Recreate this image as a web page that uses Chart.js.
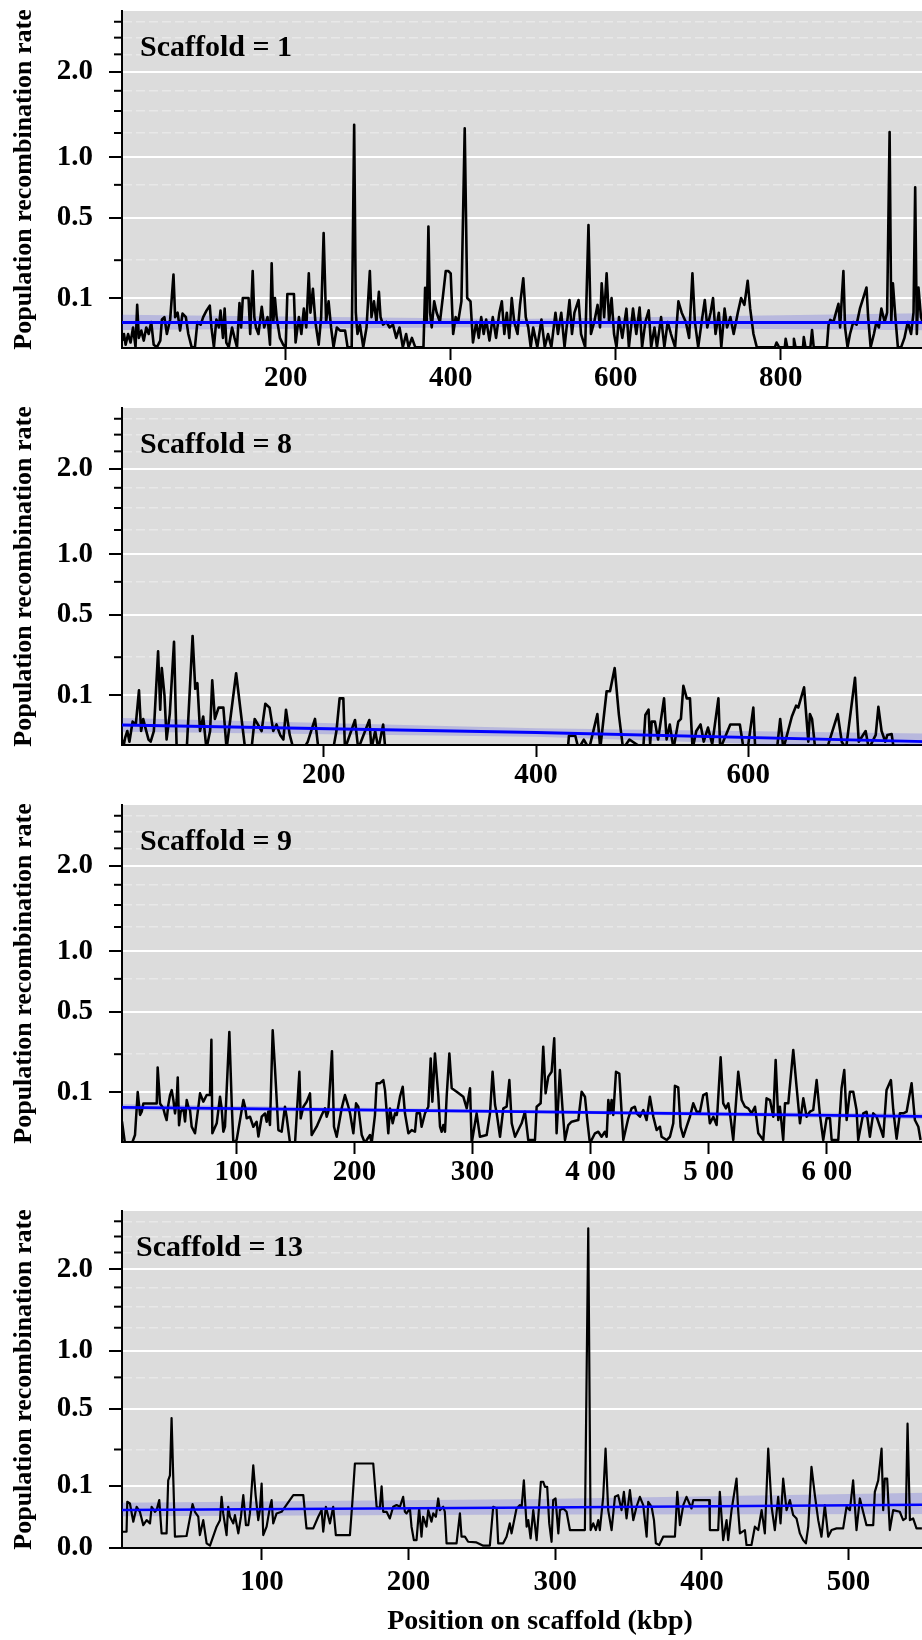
<!DOCTYPE html>
<html>
<head>
<meta charset="utf-8">
<title>Population recombination rate along scaffolds</title>
<script src="https://cdn.jsdelivr.net/npm/chart.js@4.4.1/dist/chart.umd.min.js"></script>
<style>
  html, body { margin: 0; padding: 0; background: #fff; overflow: hidden; }
  #wrap { position: relative; width: 922px; height: 1640px; overflow: hidden; }
  .panel { position: absolute; left: 0; }
</style>
</head>
<body>
<div id="wrap">
  <canvas id="p1" class="panel" width="958" height="397" style="top:0px"></canvas>
  <canvas id="p2" class="panel" width="958" height="397" style="top:397px"></canvas>
  <canvas id="p3" class="panel" width="958" height="397" style="top:794px"></canvas>
  <canvas id="p4" class="panel" width="958" height="440" style="top:1200px"></canvas>
</div>
<script>
// ---- data (position in kbp, population recombination rate) ----
const scaffold1 = [[2,0.012],[4,0.02],[6,0.008],[9,0.02],[12,0.01],[15,0.03],[18,0.006],[20,0.08],[22,0.015],[25,0.025],[28,0.012],[31,0.03],[34,0.02],[37,0.04],[40,0.008],[44,0.006],[48,0.012],[50,0.045],[53,0.05],[56,0.02],[60,0.045],[64,0.185],[66,0.05],[69,0.06],[72,0.025],[75,0.058],[79,0.05],[82,0.02],[86,0.006],[90,0.006],[93,0.04],[97,0.035],[100,0.05],[104,0.065],[108,0.078],[110,0.03],[113,0.006],[116,0.045],[119,0.03],[121,0.065],[124,0.015],[126,0.07],[128,0.01],[131,0.006],[135,0.03],[138,0.015],[141,0.006],[144,0.085],[146,0.03],[148,0.1],[155,0.1],[157,0.02],[160,0.2],[162,0.05],[164,0.03],[167,0.02],[171,0.075],[174,0.03],[178,0.05],[181,0.008],[183,0.235],[185,0.04],[187,0.1],[189,0.05],[193,0.015],[197,0.008],[200,0.006],[202,0.113],[210,0.113],[212,0.01],[216,0.05],[219,0.02],[222,0.07],[225,0.03],[228,0.19],[230,0.06],[233,0.13],[236,0.04],[240,0.008],[243,0.05],[246,0.4],[249,0.04],[252,0.09],[255,0.03],[258,0.006],[262,0.03],[266,0.025],[272,0.025],[275,0.006],[280,0.006],[283,1.34],[285,0.06],[287,0.02],[290,0.035],[294,0.006],[298,0.03],[302,0.2],[304,0.05],[307,0.09],[310,0.04],[313,0.12],[315,0.05],[318,0.035],[322,0.04],[326,0.03],[330,0.035],[334,0.015],[338,0.03],[342,0.006],[346,0.02],[349,0.006],[353,0.015],[357,0.006],[367,0.006],[369,0.134],[371,0.04],[373,0.44],[375,0.06],[377,0.03],[380,0.09],[383,0.06],[387,0.04],[391,0.115],[394,0.2],[397,0.2],[400,0.19],[403,0.02],[406,0.05],[409,0.04],[413,0.09],[417,1.3],[420,0.1],[424,0.09],[427,0.01],[431,0.04],[434,0.015],[437,0.05],[440,0.02],[443,0.045],[447,0.012],[451,0.05],[455,0.015],[459,0.06],[462,0.09],[465,0.02],[468,0.06],[471,0.015],[474,0.1],[477,0.04],[481,0.02],[484,0.08],[488,0.17],[491,0.05],[494,0.03],[497,0.006],[500,0.03],[505,0.006],[510,0.045],[514,0.006],[518,0.02],[522,0.006],[527,0.06],[530,0.02],[534,0.06],[538,0.006],[544,0.094],[547,0.02],[550,0.06],[555,0.094],[558,0.02],[563,0.006],[567,0.45],[570,0.02],[574,0.04],[578,0.08],[581,0.03],[583,0.15],[586,0.05],[589,0.19],[592,0.04],[595,0.1],[598,0.02],[601,0.006],[604,0.05],[608,0.015],[613,0.07],[616,0.006],[621,0.07],[625,0.02],[629,0.073],[632,0.006],[636,0.04],[640,0.066],[643,0.006],[647,0.03],[650,0.006],[655,0.05],[659,0.006],[663,0.04],[667,0.02],[672,0.006],[676,0.09],[680,0.06],[685,0.04],[689,0.015],[693,0.19],[696,0.04],[700,0.006],[705,0.05],[708,0.094],[711,0.03],[715,0.06],[718,0.1],[721,0.02],[725,0.06],[728,0.006],[732,0.07],[735,0.03],[739,0.05],[743,0.02],[748,0.06],[752,0.1],[756,0.08],[760,0.16],[763,0.07],[767,0.02],[771,0.006],[793,0.006],[795,0.01],[798,0.006],[805,0.006],[806,0.014],[808,0.006],[815,0.006],[816,0.014],[818,0.006],[827,0.006],[828,0.016],[830,0.006],[836,0.006],[838,0.026],[840,0.006],[856,0.006],[858,0.035],[860,0.044],[864,0.04],[867,0.06],[870,0.083],[872,0.03],[876,0.2],[878,0.03],[881,0.006],[884,0.02],[888,0.04],[892,0.035],[896,0.07],[900,0.1],[904,0.135],[906,0.05],[909,0.006],[913,0.02],[916,0.04],[919,0.03],[922,0.07],[926,0.04],[929,0.06],[932,1.26],[934,0.04],[936,0.15],[939,0.05],[942,0.006],[946,0.006],[950,0.015],[954,0.04],[958,0.02],[961,0.06],[963,0.73],[965,0.02],[967,0.135],[970,0.05],[972,0.04]];

const scaffold8 = [[10,0.01],[11,0.003],[13,0.012],[15,0.02],[17,0.008],[20,0.035],[23,0.03],[26,0.115],[28,0.02],[30,0.04],[32,0.025],[35,0.01],[37,0.008],[40,0.02],[44,0.28],[46,0.06],[47.5,0.2],[50,0.1],[52,0.01],[55,0.05],[59,0.33],[61.5,0.003],[71,0.003],[76.5,0.364],[79,0.12],[81,0.14],[83.5,0.02],[86.5,0.045],[89.5,0.003],[93,0.02],[95,0.15],[97.5,0.04],[101,0.065],[105.5,0.065],[108.5,0.003],[117.5,0.178],[126,0.003],[132,0.003],[135,0.04],[141.5,0.02],[145,0.075],[149,0.065],[152.5,0.02],[155.5,0.03],[159,0.015],[162,0.01],[164.5,0.06],[168,0.015],[171.5,0.003],[181,0.003],[185,0.008],[191.8,0.04],[195,0.003],[209,0.003],[212,0.02],[215,0.09],[218.5,0.09],[220,0.003],[229.5,0.038],[232.5,0.003],[243,0.038],[245,0.003],[248.5,0.02],[251.5,0.003],[256,0.03],[258,0.003],[267,0.004],[300,0.003],[375,0.003],[388,0.005],[430,0.003],[431,0.014],[437,0.014],[440,0.003],[445,0.01],[450,0.003],[457.8,0.05],[460.5,0.003],[466.5,0.112],[469.7,0.112],[474.1,0.2],[478,0.05],[482,0.003],[488,0.01],[501,0.003],[503,0.048],[506,0.06],[507.5,0.006],[509,0.035],[512,0.035],[515,0.01],[520.6,0.09],[523,0.01],[526,0.03],[529.5,0.003],[534,0.035],[536.5,0.04],[538.8,0.13],[542,0.09],[545,0.09],[547.5,0.003],[551,0.02],[555,0.03],[558,0.008],[562,0.025],[566,0.006],[571.8,0.09],[573.5,0.003],[583,0.03],[592,0.03],[595.5,0.003],[600,0.006],[604.7,0.065],[606.5,0.003],[627,0.003],[630,0.04],[633,0.003],[641,0.045],[645,0.07],[647,0.065],[652.5,0.125],[656.5,0.008],[658,0.05],[660,0.04],[663,0.003],[674,0.003],[684.2,0.05],[688,0.008],[692,0.003],[700.5,0.16],[704,0.008],[710.5,0.02],[713.5,0.003],[720,0.015],[722.5,0.067],[725.5,0.02],[729,0.008],[731,0.015],[735,0.016],[737,0.003],[749,0.005],[764,0.003]];

const scaffold9 = [[3.2,0.03],[5.8,0.004],[11.4,0.004],[14.2,0.0115],[16.5,0.1],[18.5,0.042],[19.9,0.0487],[21.3,0.068],[32.6,0.068],[33.4,0.19],[35.4,0.068],[38.2,0.056],[39.6,0.042],[41,0.0325],[42.4,0.064],[43.9,0.091],[45.3,0.106],[46.7,0.077],[48.1,0.045],[49.5,0.077],[50.4,0.15],[51.5,0.024],[52.9,0.049],[55.2,0.056],[56.6,0.03],[58,0.077],[59.4,0.06],[60.8,0.052],[62.2,0.022],[65,0.0134],[67.9,0.06],[69.3,0.096],[72.1,0.0725],[74.9,0.091],[77.7,0.091],[78.9,0.325],[79.7,0.0134],[83.4,0.027],[86.2,0.086],[87.6,0.056],[89,0.0152],[90.4,0.0218],[94.1,0.37],[96.1,0.068],[97.5,0.0045],[100.3,0.007],[106,0.077],[107.4,0.06],[108.8,0.0355],[111.6,0.0385],[114.4,0.0218],[117.2,0.0296],[118.7,0.01],[121.5,0.0385],[124.3,0.045],[125.7,0.0296],[127.1,0.049],[128.5,0.0243],[130.8,0.38],[132.8,0.18],[135.6,0.0173],[138.4,0.0152],[141.2,0.06],[142.6,0.0385],[145.5,0.0045],[149.7,0.0045],[153.4,0.172],[154.5,0.0355],[156.8,0.06],[159.6,0.0725],[162.4,0.096],[163.8,0.0115],[168,0.0218],[172.3,0.0418],[175.1,0.056],[176.5,0.0385],[177.9,0.0487],[181,0.265],[182.7,0.0218],[185,0.0098],[189.2,0.056],[192,0.091],[194.9,0.06],[196.3,0.0453],[199.1,0.0134],[201.4,0.0683],[203.3,0.06],[206.2,0.0115],[209,0.0045],[210.4,0.0069],[213.2,0.0115],[214.6,0.0045],[217.4,0.0418],[218.8,0.129],[221.7,0.129],[224.5,0.14],[225.9,0.106],[227.3,0.0487],[228.7,0.0134],[230.1,0.056],[232.4,0.027],[234.4,0.0453],[235.8,0.0418],[238.6,0.0862],[240.9,0.117],[242.8,0.0453],[245.7,0.0134],[248.5,0.0173],[251.3,0.0152],[252.7,0.0453],[255.5,0.0453],[256.9,0.0218],[259.8,0.0453],[262.6,0.06],[264.6,0.23],[266,0.0725],[268.2,0.254],[271.1,0.0862],[272.5,0.0218],[273.9,0.0152],[275.3,0.0243],[276.7,0.0152],[278.1,0.0862],[280.4,0.254],[282.4,0.112],[286.6,0.101],[292.2,0.0862],[295.1,0.0562],[297.9,0.112],[299.3,0.0045],[303.5,0.0453],[306.3,0.0098],[312,0.0115],[314.8,0.0453],[317,0.172],[319.1,0.064],[320.5,0.0453],[323.3,0.0098],[326.1,0.0562],[328.9,0.06],[331.2,0.14],[333.2,0.027],[336,0.0098],[338.8,0.0173],[341.6,0.027],[344.4,0.0487],[347.2,0.0069],[352.9,0.0069],[354.3,0.06],[357.7,0.0683],[359.9,0.288],[361.9,0.096],[364.2,0.153],[367,0.172],[369.2,0.333],[371.2,0.0134],[374,0.179],[376.3,0.0524],[378.3,0.0069],[381.1,0.0243],[383.9,0.0296],[389.6,0.0325],[392.4,0.101],[395.2,0.0862],[397.2,0.0325],[399.4,0.0045],[403.7,0.0134],[406.5,0.0152],[409.3,0.0098],[412.1,0.0152],[413.6,0.0098],[415,0.077],[416.4,0.0453],[417.8,0.077],[419.2,0.0418],[421.5,0.172],[424.3,0.165],[426.3,0.0453],[427.7,0.0069],[431.9,0.0355],[434.7,0.0562],[437.5,0.06],[439,0.0453],[441.8,0.0385],[444.6,0.0524],[447.4,0.0325],[450.2,0.0862],[453.1,0.0385],[455.9,0.0173],[458.7,0.0218],[460.1,0.0098],[464.4,0.0069],[467.2,0.0098],[470,0.027],[471.4,0.12],[474.2,0.115],[476.2,0.0218],[478.5,0.0098],[481.3,0.0218],[484.1,0.0385],[486.9,0.0683],[489.8,0.0487],[492.6,0.0487],[495.4,0.091],[498.2,0.096],[501,0.027],[503.9,0.0385],[506.7,0.0243],[510.1,0.235],[512.3,0.0683],[514.6,0.0562],[516.6,0.0683],[518,0.0453],[520.8,0.0069],[525,0.172],[527.9,0.077],[530.7,0.06],[533.5,0.0562],[536.3,0.0453],[539.2,0.06],[542,0.0134],[546.2,0.0069],[549,0.0816],[551.9,0.077],[554.7,0.0385],[556.7,0.223],[558.9,0.0325],[560.3,0.06],[563.1,0.0069],[564.6,0.0683],[567.4,0.0683],[571.6,0.271],[574.4,0.117],[577.3,0.027],[580.1,0.0816],[582.9,0.0385],[585.7,0.0487],[588.5,0.0524],[591.4,0.14],[594.2,0.0418],[597,0.0069],[599.8,0.0355],[602.7,0.0355],[604.1,0.0069],[609.7,0.0069],[612.5,0.112],[614.8,0.179],[616.8,0.0325],[619.6,0.101],[622.4,0.101],[625.2,0.0524],[626.6,0.0069],[630.9,0.0453],[633.7,0.0487],[636.5,0.0098],[639.3,0.0453],[642.2,0.0385],[645,0.0218],[647.8,0.0098],[650.6,0.106],[654.3,0.14],[656.3,0.0524],[659.1,0.008],[661.9,0.0453],[664.8,0.0453],[667.6,0.0487],[671.8,0.129],[674.6,0.0325],[677.5,0.0218],[679.4,0.0069]];

const scaffold13 = [[4.6,0.0068],[7.7,0.0068],[8.2,0.055],[10,0.0511],[12.3,0.0178],[14.6,0.0438],[16.8,0.0338],[19.1,0.0135],[21.4,0.02],[23.7,0.0156],[24.8,0.0438],[27.1,0.0338],[28.2,0.037],[30,0.059],[31.6,0.0055],[35,0.0055],[36.1,0.118],[37.3,0.136],[38.4,0.435],[39.6,0.118],[40.7,0.0033],[48.6,0.0037],[52.7,0.0496],[54.3,0.0338],[56.6,0.0252],[57.7,0.0043],[60,0.02],[62.3,0.00056],[64.6,0.00014],[69.1,0.0117],[71.4,0.02],[72.5,0.0675],[73.6,0.0308],[75.9,0.0043],[77,0.0438],[78.2,0.0252],[80.5,0.0156],[81.6,0.0279],[83.9,0.0055],[85.7,0.0252],[87.3,0.072],[89.1,0.0135],[90.7,0.0135],[91.8,0.0308],[94.1,0.176],[95.7,0.072],[97.5,0.02],[98.6,0.037],[99.8,0.107],[100.9,0.0043],[103.2,0.0117],[105.5,0.0438],[106.6,0.059],[107.7,0.0156],[110,0.0308],[113.4,0.0338],[121.4,0.072],[128.2,0.072],[130.4,0.0099],[135,0.0099],[138.4,0.0252],[140.7,0.037],[141.8,0.0068],[143.6,0.0438],[146.4,0.0156],[148.6,0.0438],[150.4,0.0043],[160,0.0043],[161.6,0.0511],[163.4,0.184],[175.9,0.184],[178.2,0.0438],[180.4,0.0403],[181.6,0.098],[182.7,0.0338],[185,0.0338],[187.2,0.0225],[189.5,0.0438],[191.8,0.0474],[194.1,0.0438],[196.3,0.0675],[197.5,0.0338],[198.6,0.0308],[200.9,0.0403],[202,0.0117],[203.6,0.0016],[205.4,0.0016],[207.2,0.0403],[208.8,0.0033],[209.9,0.0252],[212.2,0.0117],[213.4,0.037],[215.6,0.0178],[216.8,0.0308],[218.6,0.0252],[220.2,0.0632],[221.3,0.037],[223.6,0.0438],[224.7,0.0338],[225.9,0.00056],[232.7,0.00056],[235,0.0308],[236.1,0.0033],[238.4,0.0033],[240.6,0.001],[246.3,0.0008],[250.9,0.00014],[255.4,0.00014],[257.7,0.0438],[260,0.0403],[261.1,0.00056],[264.5,0.00056],[266.8,0.0033],[269,0.0156],[270.2,0.0055],[273.6,0.0403],[275.9,0.0474],[277.1,0.0438],[278.6,0.118],[280.5,0.0117],[281.6,0.02],[283.2,0.0024],[285,0.037],[287.3,0.0016],[290.2,0.113],[291.8,0.113],[293,0.0963],[294.5,0.0963],[295.9,0.0156],[297.5,0.001],[298.6,0.059],[300.2,0.0632],[302.1,0.0055],[303.2,0.037],[305.5,0.0403],[307.7,0.0338],[310,0.0083],[320.2,0.0083],[322.5,2.634],[324.1,0.0083],[325.9,0.0156],[327.7,0.0083],[329.3,0.02],[330.4,0.0083],[332.7,0.0675],[334.3,0.254],[336.1,0.037],[338.4,0.0083],[340.7,0.0675],[342.9,0.072],[345.2,0.037],[346.8,0.0813],[348.6,0.0225],[350.9,0.0862],[353.2,0.02],[355.4,0.0438],[357.7,0.0675],[360,0.0474],[362.3,0.0033],[363.4,0.055],[365.7,0.0438],[367.3,0.02],[368.6,0.00056],[370.9,0.00023],[373.6,0.0033],[381.6,0.0033],[383.2,0.0813],[385,0.0135],[387.3,0.0474],[389.5,0.0675],[392.9,0.0403],[394.1,0.059],[405,0.059],[405.4,0.0083],[411.1,0.0083],[412.2,0.0813],[414.5,0.0016],[416.8,0.02],[417.9,0.0016],[420.2,0.037],[423.6,0.124],[424.7,0.037],[425.9,0.0055],[429.3,0.0083],[430.4,0.00023],[433.8,0.00023],[436.1,0.0117],[438.4,0.0083],[440.7,0.037],[442.9,0.0055],[445.2,0.254],[447.5,0.0438],[449.7,0.0083],[452,0.0675],[453.6,0.0156],[455.4,0.124],[457.7,0.037],[460,0.059],[462.2,0.0279],[464.5,0.0225],[466.8,0.0055],[469,0.0016],[470.9,0.00056],[472.5,0.0117],[474.7,0.17],[477,0.072],[479.3,0.02],[481.5,0.0033],[483.8,0.0474],[486.1,0.0033],[488.4,0.0083],[491.8,0.0099],[496.3,0.0099],[498.6,0.0438],[500.9,0.037],[503.1,0.118],[505.4,0.0083],[507.7,0.0632],[509.9,0.0338],[512.2,0.0135],[516.8,0.0135],[517.9,0.0813],[520.2,0.118],[522.5,0.254],[523.6,0.037],[524.7,0.124],[526.3,0.124],[528.1,0.0083],[530.4,0.037],[534.9,0.0338],[537.2,0.02],[539,0.0225],[540.2,0.398],[541.8,0.02],[544,0.0225],[546.3,0.0099],[550,0.0099]];

// smoothed trend (blue) with its confidence band, read at a few positions
const fit1X = [1.6, 480, 1015],   fit1Mid = [0.039, 0.039, 0.039],    fit1Low = [0.026, 0.031, 0.025],   fit1High = [0.055, 0.046, 0.06];
const fit8X = [10, 400, 797],     fit8Mid = [0.029, 0.018, 0.0074],   fit8Low = [0.019, 0.013, 0.002],   fit8High = [0.042, 0.024, 0.016];
const fit9X = [3.2, 340, 711],    fit9Mid = [0.0586, 0.049, 0.0384],  fit9Low = [0.052, 0.0462, 0.033],  fit9High = [0.066, 0.0522, 0.044];
const fit13X = [4.6, 290, 575],   fit13Mid = [0.037, 0.042, 0.049],   fit13Low = [0.026, 0.029, 0.03],   fit13High = [0.0525, 0.062, 0.08];

const panelTitles = ['Scaffold = 1', 'Scaffold = 8', 'Scaffold = 9', 'Scaffold = 13'];
const yMajorTicks = [0.1, 0.5, 1.0, 2.0];
const yMajorTicksWithZero = [0.0, 0.1, 0.5, 1.0, 2.0];
const yMinorTicks = [0.25, 0.75, 1.25, 1.5, 1.75, 2.25, 2.5, 2.75];
const xTicks1 = [200, 400, 600, 800],           xLabels1 = ['200', '400', '600', '800'];
const xTicks8 = [200, 400, 600],                xLabels8 = ['200', '400', '600'];
const xTicks9 = [100, 200, 300, 400, 500, 600], xLabels9 = ['100', '200', '300', '4 00', '5 00', '6 00'];
const xTicks13 = [100, 200, 300, 400, 500],     xLabels13 = ['100', '200', '300', '400', '500'];
const yAxisTitle = 'Population recombination rate';
const xAxisTitle = 'Position on scaffold (kbp)';

// ---- drawing ----
const SERIF = "'Liberation Serif', 'Times New Roman', serif";
Chart.defaults.font.family = SERIF;
const Y_TOP = 2.926;

// y is shown on a square-root scale
const toPts = (xs, ys) => xs.map((x, i) => ({ x: x, y: Math.sqrt(ys[i]) }));
const pairPts = pairs => pairs.map(p => ({ x: p[0], y: Math.sqrt(p[1]) }));

const panelBg = {
  id: 'panelBg',
  beforeDraw(chart) {
    const a = chart.chartArea, ctx = chart.ctx;
    ctx.save();
    ctx.fillStyle = '#DCDCDC';
    ctx.fillRect(a.left, a.top, a.right - a.left, a.bottom - a.top);
    ctx.restore();
  }
};

const minorTicks = {
  id: 'minorTicks',
  afterDraw(chart) {
    const y = chart.scales.y, ctx = chart.ctx, left = chart.chartArea.left;
    ctx.save();
    ctx.strokeStyle = '#000';
    ctx.lineWidth = 2;
    yMinorTicks.forEach(v => {
      const py = y.getPixelForValue(Math.sqrt(v));
      ctx.beginPath();
      ctx.moveTo(left - 8, py);
      ctx.lineTo(left, py);
      ctx.stroke();
    });
    ctx.restore();
  }
};

const panelLabel = {
  id: 'panelLabel',
  afterDatasetsDraw(chart, args, opts) {
    const a = chart.chartArea, ctx = chart.ctx;
    ctx.save();
    ctx.font = 'bold 30px ' + SERIF;
    ctx.fillStyle = '#000';
    ctx.textBaseline = 'alphabetic';
    ctx.textAlign = 'left';
    ctx.fillText(opts.text, a.left + opts.dx, a.top + 45);
    ctx.restore();
  }
};

function makePanel(id, cfg) {
  const majors = cfg.yMajor;
  const allTicks = majors.concat(yMinorTicks).sort((a, b) => a - b);
  const isMajor = v => majors.some(m => Math.abs(Math.sqrt(m) - v) < 1e-6);
  const tickIsMajor = c => !!(c.tick && isMajor(c.tick.value));
  const tickIsMinor = c => !!(c.tick && !isMajor(c.tick.value));

  return new Chart(document.getElementById(id), {
    type: 'line',
    data: {
      datasets: [
        { label: 'trend', data: toPts(cfg.fitX, cfg.fitMid), borderColor: '#0000FF', borderWidth: cfg.lw + 0.3,
          pointRadius: 0, fill: false, order: 0 },
        { label: 'rho', data: pairPts(cfg.points), borderColor: '#000000', borderWidth: cfg.lw,
          pointRadius: 0, fill: false, order: 1, borderJoinStyle: 'round' },
        { label: 'ciLow', data: toPts(cfg.fitX, cfg.fitLow), borderColor: 'rgba(0,0,0,0)', borderWidth: 1,
          pointRadius: 0, fill: false, order: 3 },
        { label: 'ciHigh', data: toPts(cfg.fitX, cfg.fitHigh), borderColor: 'rgba(0,0,0,0)', borderWidth: 1,
          pointRadius: 0, fill: '-1', backgroundColor: 'rgba(40,40,225,0.2)', order: 2 }
      ]
    },
    options: {
      responsive: false,
      animation: false,
      devicePixelRatio: 1,
      layout: { padding: { top: 11, left: 0, right: 0, bottom: 0 } },
      plugins: {
        legend: { display: false },
        tooltip: { enabled: false },
        panelLabel: { text: cfg.title, dx: cfg.titleDx }
      },
      scales: {
        x: {
          type: 'linear',
          min: cfg.xMin,
          max: cfg.xMax,
          afterBuildTicks: s => { s.ticks = cfg.xTicks.map(v => ({ value: v })); },
          afterFit: s => { s.height = cfg.xHeight; s.paddingLeft = 0; s.paddingRight = 0; },
          ticks: {
            autoSkip: false, maxRotation: 0, minRotation: 0, color: '#000', padding: cfg.xPad,
            font: { size: 29, weight: 'bold' },
            callback: v => cfg.xLabels[cfg.xTicks.indexOf(v)]
          },
          grid: { drawOnChartArea: false, tickLength: 12, tickWidth: 2, tickColor: '#000', color: '#000' },
          border: { color: '#000', width: 2 },
          title: {
            display: !!cfg.xTitle, text: cfg.xTitle || '', color: '#000',
            font: { size: 28, weight: 'bold' }, padding: { top: 0, bottom: 1 }
          }
        },
        y: {
          type: 'linear',
          min: Math.sqrt(cfg.yMin),
          max: Math.sqrt(Y_TOP),
          afterBuildTicks: s => { s.ticks = allTicks.map(v => ({ value: Math.sqrt(v) })); },
          afterFit: s => { s.width = 122; s.paddingTop = 0; s.paddingBottom = 0; },
          ticks: {
            autoSkip: false, color: '#000', padding: 16,
            font: { size: 29, weight: 'bold' },
            callback: v => {
              const m = majors.find(t => Math.abs(Math.sqrt(t) - v) < 1e-6);
              return m === undefined ? '' : m.toFixed(1);
            }
          },
          grid: {
            color: c => tickIsMinor(c) ? '#E8E8E8' : '#FFFFFF',
            lineWidth: c => tickIsMinor(c) ? 1.5 : 2,
            tickLength: 13, tickWidth: 2,
            tickColor: c => tickIsMajor(c) ? '#000' : 'rgba(0,0,0,0)'
          },
          border: { color: '#000', width: 2, dash: c => tickIsMinor(c) ? [9, 4] : [] },
          title: {
            display: true, text: yAxisTitle, color: '#000',
            font: { size: 26, weight: 'bold' }, padding: { top: 8.6, bottom: 0 }
          }
        }
      }
    },
    plugins: [panelBg, minorTicks, panelLabel]
  });
}

makePanel('p1', { points: scaffold1, fitX: fit1X, fitMid: fit1Mid, fitLow: fit1Low, fitHigh: fit1High,
  title: panelTitles[0], titleDx: 18, yMajor: yMajorTicks, yMin: 0.0054, xMin: 1.6, xMax: 1014.9,
  xTicks: xTicks1, xLabels: xLabels1, xHeight: 49, xPad: 1.5, lw: 2.6 });
makePanel('p2', { points: scaffold8, fitX: fit8X, fitMid: fit8Mid, fitLow: fit8Low, fitHigh: fit8High,
  title: panelTitles[1], titleDx: 18, yMajor: yMajorTicks, yMin: 0.0054, xMin: 10, xMax: 797.5,
  xTicks: xTicks8, xLabels: xLabels8, xHeight: 49, xPad: 1.5, lw: 2.6 });
makePanel('p3', { points: scaffold9, fitX: fit9X, fitMid: fit9Mid, fitLow: fit9Low, fitHigh: fit9High,
  title: panelTitles[2], titleDx: 18, yMajor: yMajorTicks, yMin: 0.0054, xMin: 3.2, xMax: 711.1,
  xTicks: xTicks9, xLabels: xLabels9, xHeight: 49, xPad: 1.5, lw: 2.5 });
makePanel('p4', { points: scaffold13, fitX: fit13X, fitMid: fit13Mid, fitLow: fit13Low, fitHigh: fit13High,
  title: panelTitles[3], titleDx: 14, yMajor: yMajorTicksWithZero, yMin: 0, xMin: 4.6, xMax: 574.6,
  xTicks: xTicks13, xLabels: xLabels13, xHeight: 92, xPad: 5, lw: 2.2, xTitle: xAxisTitle });
</script>
</body>
</html>
